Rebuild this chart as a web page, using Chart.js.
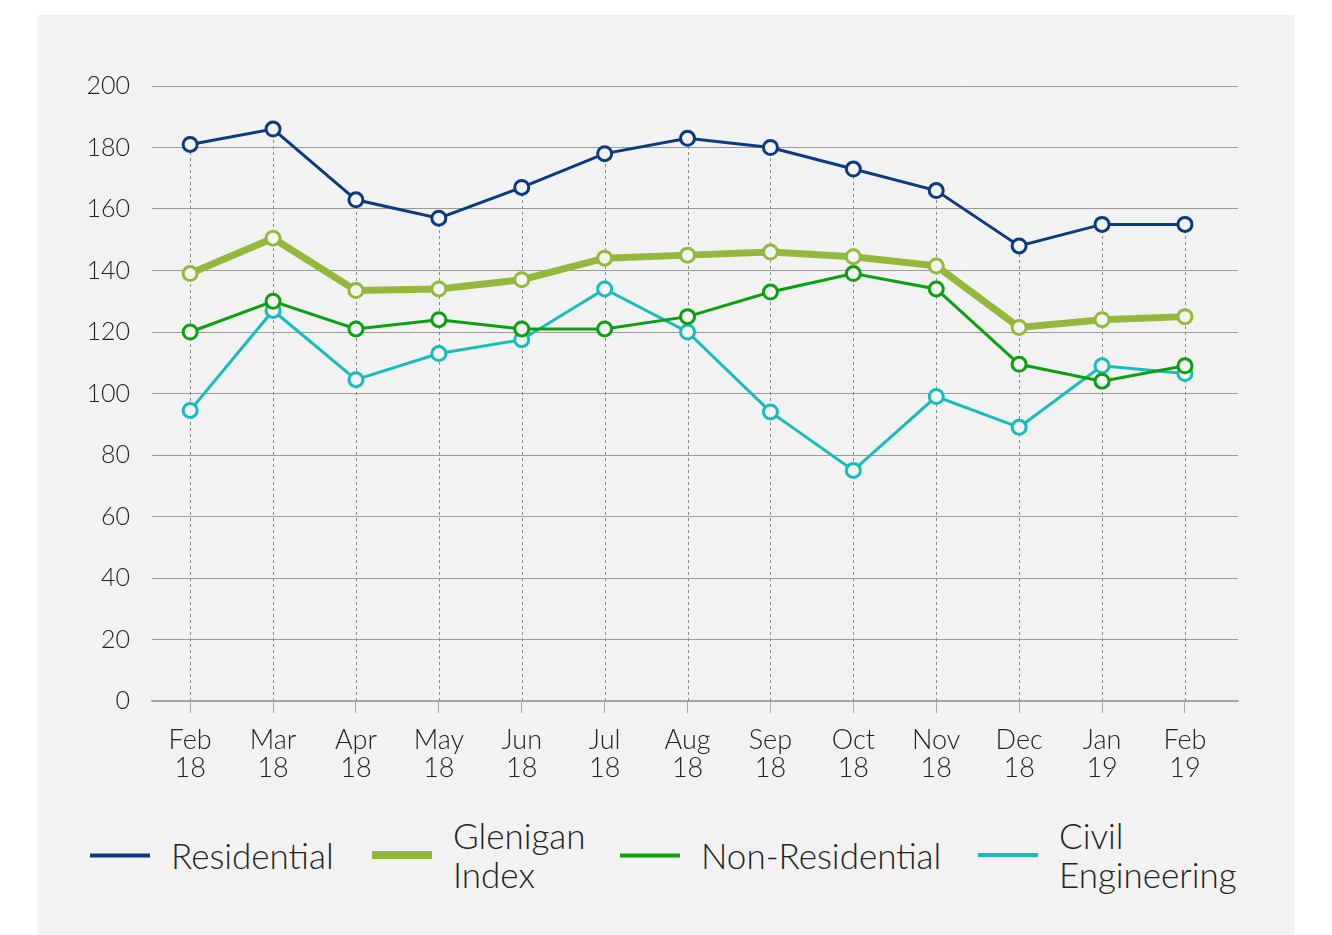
<!DOCTYPE html>
<html>
<head>
<meta charset="utf-8">
<script src="https://cdn.jsdelivr.net/npm/chart.js@4.4.1/dist/chart.umd.min.js"></script>
<style>
  body { margin: 0; background: #fff; width: 1332px; height: 935px; overflow: hidden; }
  #panel { position: absolute; left: 37px; top: 15px; width: 1258px; height: 920px; background: #f2f2f2; }
  #chart { position: absolute; left: 0; top: 0; }
  .legend { font-family: Lato, "Open Sans", sans-serif; font-weight: 300; font-size: 35px; color: #222; line-height: 39px; }
  .item { position: absolute; display: flex; align-items: center; }
  .swatch { width: 60px; margin-right: 21px; }
</style>
</head>
<body>
<div id="panel">
  <canvas id="chart" width="1258" height="790"></canvas>
  <div class="legend" id="legend"></div>
</div>
<script>
const months = ["Feb 18", "Mar 18", "Apr 18", "May 18", "Jun 18", "Jul 18", "Aug 18",
                "Sep 18", "Oct 18", "Nov 18", "Dec 18", "Jan 19", "Feb 19"];

const residential   = [181, 186, 163, 157, 167, 178, 183, 180, 173, 166, 148, 155, 155];
const gleniganIndex = [139, 150.5, 133.5, 134, 137, 144, 145, 146, 144.5, 141.5, 121.5, 124, 125];
const nonResidential = [120, 130, 121, 124, 121, 121, 125, 133, 139, 134, 109.5, 104, 109];
const civilEng      = [94.5, 127, 104.5, 113, 117.5, 134, 120, 94, 75, 99, 89, 109, 106.5];

const seriesNames = ["Residential", "Glenigan\nIndex", "Non-Residential", "Civil\nEngineering"];
const seriesColors = ["#0b3a80", "#93b83b", "#0aa00f", "#17bcbc"];
const seriesWidths = [3, 7, 3, 3];

// dashed drop lines from the highest point of each month down to the axis
const dropLines = {
  id: "dropLines",
  beforeDatasetsDraw(chart) {
    const { ctx, scales: { x, y } } = chart;
    ctx.save();
    ctx.strokeStyle = "#8a8a8a";
    ctx.lineWidth = 1;
    ctx.setLineDash([3, 3]);
    months.forEach((m, i) => {
      const top = Math.max(...chart.data.datasets.map((d) => d.data[i].y));
      const px = Math.round(x.getPixelForValue(i)) + 0.5;
      ctx.beginPath();
      ctx.moveTo(px, y.getPixelForValue(0));
      ctx.lineTo(px, y.getPixelForValue(top));
      ctx.stroke();
    });
    ctx.restore();
  },
};

const fontFamily = "Lato, 'Open Sans', sans-serif";
const data = [residential, gleniganIndex, nonResidential, civilEng];

new Chart(document.querySelector("#chart"), {
  type: "line",
  data: {
    datasets: data.map((vals, i) => ({
      label: seriesNames[i],
      data: vals.map((v, j) => ({ x: j, y: v })),
      borderColor: seriesColors[i],
      borderWidth: seriesWidths[i],
      pointBackgroundColor: "#f4f4f4",
      pointBorderColor: seriesColors[i],
      pointBorderWidth: 3,
      pointRadius: 7,
      tension: 0,
    })),
  },
  options: {
    responsive: false,
    animation: false,
    layout: { padding: { top: 71, right: 57, left: 0, bottom: 0 } },
    plugins: { legend: { display: false }, tooltip: { enabled: false } },
    scales: {
      x: {
        type: "linear",
        min: -0.46,
        max: 12.64,
        afterBuildTicks: (s) => { s.ticks = months.map((m, i) => ({ value: i })); },
        grid: { drawOnChartArea: false, color: "#aaa", tickLength: 12 },
        border: { color: "#aaa", width: 1.5 },
        ticks: {
          color: "#222",
          font: { family: fontFamily, weight: 300, size: 27, lineHeight: 1.05 },
          padding: 13,
          maxRotation: 0,
          autoSkip: false,
          callback: (v) => months[v] ? months[v].split(" ") : "",
        },
        afterFit: (s) => { s.height = 104; },
      },
      y: {
        min: 0,
        max: 200,
        ticks: { stepSize: 20, color: "#222", font: { family: fontFamily, weight: 300, size: 25 }, padding: 22 },
        grid: { color: "#9a9a9a", drawTicks: false },
        border: { display: false },
        afterFit: (s) => { s.width = 115; },
      },
    },
  },
  plugins: [dropLines],
});

// legend built as html so labels can wrap onto two lines
const legendPos = [[53, 840], [335, 840], [583, 840], [941, 840]];
const legend = document.querySelector("#legend");
seriesNames.forEach((name, i) => {
  const item = document.createElement("div");
  item.className = "item";
  item.style.left = legendPos[i][0] + "px";
  item.style.top = legendPos[i][1] + "px";
  item.style.transform = "translateY(-50%)";
  const sw = document.createElement("div");
  sw.className = "swatch";
  sw.style.height = (seriesWidths[i] + 1) + "px";
  sw.style.background = seriesColors[i];
  const txt = document.createElement("div");
  txt.innerHTML = name.replace("\n", "<br>");
  item.append(sw, txt);
  legend.append(item);
});
</script>
</body>
</html>
